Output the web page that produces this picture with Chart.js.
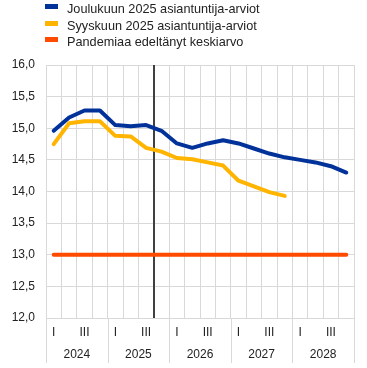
<!DOCTYPE html>
<html>
<head>
<meta charset="utf-8">
<script src="https://cdn.jsdelivr.net/npm/chart.js@4"></script>
<style>
  body { margin: 0; background: #fff; }
  #wrap { position: relative; width: 367px; height: 368px; }
  #legend { position: absolute; left: 45px; top: 2px; font: 12.7px "Liberation Sans", Arial, sans-serif; color: #222; }
  .item { position: relative; height: 16.5px; line-height: 14px; padding-left: 22px; white-space: nowrap; }
  .item span { position: absolute; left: 0; top: 2px; width: 13px; height: 5px; }
</style>
</head>
<body>
<div id="wrap">
  <canvas id="chart" width="367" height="368"></canvas>
  <div id="legend"></div>
</div>
<script>
const categories = [
  "2024 I", "2024 II", "2024 III", "2024 IV",
  "2025 I", "2025 II", "2025 III", "2025 IV",
  "2026 I", "2026 II", "2026 III", "2026 IV",
  "2027 I", "2027 II", "2027 III", "2027 IV",
  "2028 I", "2028 II", "2028 III", "2028 IV",
];
const quarterTicks = ["I", "", "III", ""];
const years = ["2024", "2025", "2026", "2027", "2028"];
const yTicks = [12, 12.5, 13, 13.5, 14, 14.5, 15, 15.5, 16];

const decemberProjection = [
  14.96, 15.17, 15.28, 15.28, 15.05, 15.03, 15.05, 14.96, 14.76, 14.69,
  14.76, 14.81, 14.76, 14.68, 14.6, 14.54, 14.5, 14.46, 14.4, 14.3,
];
const septemberProjection = [
  14.75, 15.08, 15.11, 15.11, 14.88, 14.87, 14.69, 14.63, 14.53, 14.51,
  14.46, 14.41, 14.17, 14.08, 13.99, 13.93,
];
const preCovidAverage = [
  13, 13, 13, 13, 13, 13, 13, 13, 13, 13,
  13, 13, 13, 13, 13, 13, 13, 13, 13, 13,
];
const projectionStart = "2025 IV";

const names = [
  "Joulukuun 2025 asiantuntija-arviot",
  "Syyskuun 2025 asiantuntija-arviot",
  "Pandemiaa edeltänyt keskiarvo",
];
const colors = ["#003299", "#ffb400", "#ff4b00"];

const gridColor = "#d9d9d9";
const font = { family: "'Liberation Sans', Arial, sans-serif", size: 12 };

// year labels under the quarters + forecast marker
const yearPlugin = {
  id: "years",
  beforeDatasetsDraw(chart) {
    const { ctx, chartArea, scales: { x } } = chart;
    const step = x.getPixelForValue(1) - x.getPixelForValue(0);
    const cx = Math.round(x.getPixelForValue(categories.indexOf(projectionStart)) - step / 2);
    ctx.save();
    ctx.strokeStyle = "#404040";
    ctx.lineWidth = 2;
    ctx.beginPath();
    ctx.moveTo(cx, chartArea.top);
    ctx.lineTo(cx, chartArea.bottom);
    ctx.stroke();
    ctx.restore();
  },
  afterDraw(chart) {
    const { ctx, chartArea, scales: { x } } = chart;
    const step = x.getPixelForValue(1) - x.getPixelForValue(0);
    ctx.save();
    ctx.strokeStyle = gridColor;
    ctx.lineWidth = 1;
    for (let i = 0; i <= years.length; i++) {
      const bx = Math.round(x.getPixelForValue(i * 4) - step / 2) + 0.5;
      ctx.beginPath();
      ctx.moveTo(bx, chartArea.bottom);
      ctx.lineTo(bx, chartArea.bottom + 45);
      ctx.stroke();
    }
    ctx.fillStyle = "#222";
    ctx.font = "12px 'Liberation Sans', Arial, sans-serif";
    ctx.textAlign = "center";
    ctx.textBaseline = "middle";
    years.forEach((y, i) => {
      const mid = (x.getPixelForValue(i * 4) + x.getPixelForValue(i * 4 + 3)) / 2;
      ctx.fillText(y, mid, chartArea.bottom + 37);
    });
    ctx.restore();
  },
};

new Chart(document.querySelector("#chart"), {
  type: "line",
  data: {
    labels: categories,
    datasets: [
      { label: names[0], data: decemberProjection, borderColor: colors[0], borderWidth: 4 },
      { label: names[1], data: septemberProjection, borderColor: colors[1], borderWidth: 4 },
      { label: names[2], data: preCovidAverage, borderColor: colors[2], borderWidth: 4 },
    ].reverse(),
  },
  options: {
    responsive: false,
    animation: false,
    layout: { padding: { top: 65, right: 13 } },
    elements: { point: { radius: 0 }, line: { tension: 0, borderCapStyle: "round", borderJoinStyle: "round" } },
    plugins: { legend: { display: false }, tooltip: { enabled: false } },
    scales: {
      x: {
        offset: true,
        grid: { color: gridColor, offset: true, drawTicks: false },
        border: { color: gridColor },
        ticks: {
          autoSkip: false,
          maxRotation: 0,
          padding: 7,
          color: "#222",
          font: font,
          callback: (v, i) => quarterTicks[i % 4],
        },
        afterFit: (s) => { s.height = 50; },
      },
      y: {
        min: yTicks[0],
        max: yTicks[yTicks.length - 1],
        afterBuildTicks: (s) => { s.ticks = yTicks.map((v) => ({ value: v })); },
        grid: { color: gridColor, drawTicks: false },
        border: { color: gridColor },
        ticks: {
          padding: 11,
          color: "#222",
          font: font,
          callback: (v) => v.toFixed(1).replace(".", ","),
        },
        afterFit: (s) => { s.width = 46; },
      },
    },
  },
  plugins: [yearPlugin],
});

const legend = document.querySelector("#legend");
names.forEach((n, i) => {
  const d = document.createElement("div");
  d.className = "item";
  d.innerHTML = '<span style="background:' + colors[i] + '"></span>' + n;
  legend.appendChild(d);
});
</script>
</body>
</html>
